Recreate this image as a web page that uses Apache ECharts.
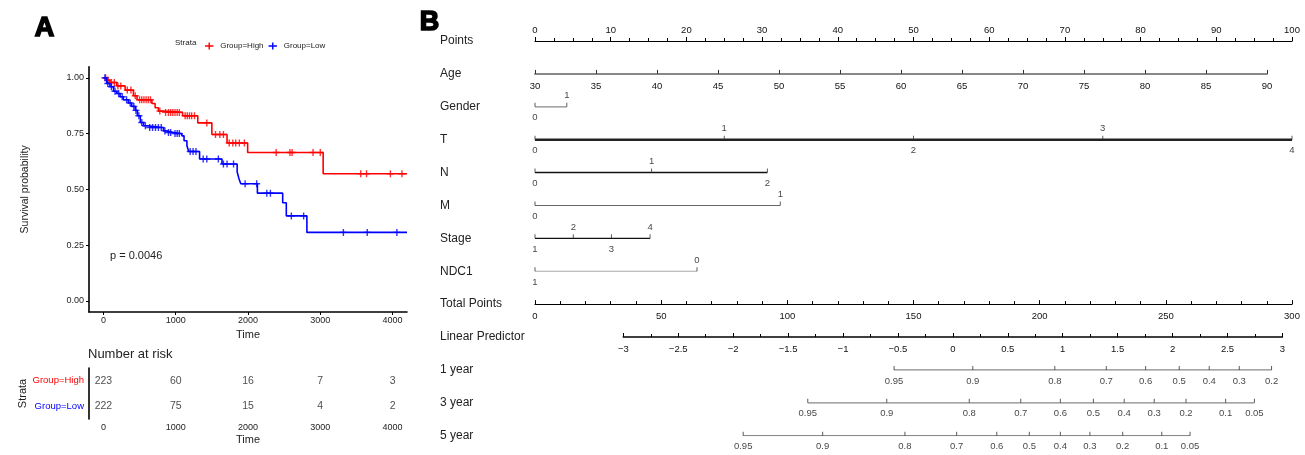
<!DOCTYPE html>
<html>
<head>
<meta charset="utf-8">
<script src="https://cdn.jsdelivr.net/npm/echarts@6/dist/echarts.min.js"></script>
<style>
html,body{margin:0;padding:0;background:#fff}
#main{width:1305px;height:455px}
</style>
</head>
<body>
<div id="main"></div>
<script>
// ---- A: Kaplan-Meier data ----
var highTime = [0, 45, 90, 185, 300, 415, 465, 670, 715, 760, 830, 1095, 1305, 1500, 1710, 1995, 3040, 4200];
var highSurv = [1.0, 0.99, 0.979, 0.964, 0.945, 0.92, 0.902, 0.885, 0.866, 0.851, 0.845, 0.83, 0.798, 0.746, 0.708, 0.665, 0.57, 0.57];
var lowTime = [0, 45, 90, 140, 185, 230, 275, 345, 390, 440, 470, 510, 555, 600, 830, 875, 970, 1085, 1115, 1155, 1180, 1330, 1640, 1850, 1875, 1900, 2130, 2480, 2530, 2815, 4200];
var lowSurv = [1.0, 0.975, 0.96, 0.94, 0.93, 0.915, 0.902, 0.887, 0.872, 0.854, 0.83, 0.80, 0.785, 0.777, 0.762, 0.755, 0.75, 0.74, 0.718, 0.696, 0.67, 0.636, 0.614, 0.578, 0.548, 0.525, 0.483, 0.44, 0.381, 0.307, 0.307];
var highCensor = [30, 60, 110, 150, 200, 240, 330, 380, 440, 500, 530, 560, 590, 620, 650, 780, 860, 900, 930, 960, 990, 1020, 1050, 1130, 1160, 1190, 1220, 1260, 1430, 1550, 1610, 1660, 1740, 1790, 1830, 1880, 1950, 2390, 2580, 2610, 2900, 3000, 3560, 3640, 3970, 4130];
var lowCensor = [20, 60, 110, 160, 210, 260, 320, 370, 420, 450, 490, 530, 580, 640, 680, 720, 760, 800, 850, 900, 930, 990, 1020, 1050, 1200, 1240, 1280, 1380, 1430, 1590, 1660, 1710, 1800, 1960, 2120, 2260, 2310, 2600, 2770, 3320, 3650, 4060];
var timeTicks = [0, 1000, 2000, 3000, 4000];
var survTicks = [0, 0.25, 0.5, 0.75, 1];
var strata = ['Group=High', 'Group=Low'];
var riskHigh = [223, 60, 16, 7, 3];
var riskLow = [222, 75, 15, 4, 2];

// ---- B: nomogram data (positions in points / total points) ----
var rowNames = ['Points', 'Age', 'Gender', 'T', 'N', 'M', 'Stage', 'NDC1', 'Total Points', 'Linear Predictor', '1 year', '3 year', '5 year'];
var agePtsAt90 = 96.7;          // Age 30 -> 0 pts, Age 90 -> 96.7 pts
var lpTotalRange = [35.0, 296.2]; // LP -3 and 3 in total points
var genderLab = ['0', '1'];           var genderPts = [0, 4.2];
var tLab = ['0', '1', '2', '3', '4']; var tPts = [0, 25, 50, 75, 100];
var nLab = ['0', '1', '2'];           var nPts = [0, 15.4, 30.7];
var mLab = ['0', '1'];                var mPts = [0, 32.4];
var stageLab = ['1', '2', '3', '4'];  var stagePts = [0, 5.06, 10.1, 15.2];
var ndc1Lab = ['1', '0'];             var ndc1Pts = [0, 21.4];
var y1Lab = ['0.95', '0.9', '0.8', '0.7', '0.6', '0.5', '0.4', '0.3', '0.2'];
var y1Pts = [142.3, 173.5, 206.0, 226.4, 242.0, 255.3, 267.2, 279.1, 291.9];
var y3Lab = ['0.95', '0.9', '0.8', '0.7', '0.6', '0.5', '0.4', '0.3', '0.2', '0.1', '0.05'];
var y3Pts = [108.1, 139.4, 172.1, 192.5, 208.2, 221.3, 233.5, 245.4, 258.0, 273.7, 285.1];
var y5Lab = ['0.95', '0.9', '0.8', '0.7', '0.6', '0.5', '0.4', '0.3', '0.2', '0.1', '0.05'];
var y5Pts = [82.5, 114.0, 146.6, 167.1, 183.0, 195.9, 208.2, 219.9, 232.9, 248.4, 259.6];

var FONT = '"Liberation Sans", Arial, sans-serif';
var RED = '#ff0000', BLUE = '#0000ff', INK = '#222';

// survival value at time t (step function)
function stepAt(times, surv, t) {
    var v = surv[0];
    for (let i = 0; i < times.length; i++) {
        if (times[i] <= t) v = surv[i];
    }
    return v;
}

function pairs(xs, ys) {
    var out = [];
    for (let i = 0; i < xs.length; i++) out.push([xs[i], ys[i]]);
    return out;
}

var plusIcon = 'path://M4,0h2v10h-2z M0,4h10v2h-10z';

// nomogram layout
var nomoLeft = 535, nomoWidth = 757, nomoTop = 41, rowH = 32.89;
function rowY(i) { return nomoTop + i * rowH; }

function nomoRow(row, xIdx, labels, pts, sides, color, width) {
    var lo = Math.min.apply(null, pts), hi = Math.max.apply(null, pts);
    var line = {
        type: 'line', xAxisIndex: xIdx, yAxisIndex: 2, data: [[lo, row], [hi, row]],
        symbol: 'none', lineStyle: { color: color, width: width }, silent: true, z: 2
    };
    var ticks = {
        type: 'scatter', xAxisIndex: xIdx, yAxisIndex: 2, symbol: 'rect',
        symbolSize: [1, 4], symbolOffset: [0, -2], itemStyle: { color: '#333' }, silent: true, z: 3,
        label: {
            show: true, fontSize: 9.5, color: '#111', fontFamily: FONT,
            formatter: function (p) { return labels[p.dataIndex]; }
        },
        data: pts.map(function (p, i) {
            var s = sides ? sides[i] : 'bottom';
            return { value: [p, row], label: { position: s, distance: s == 'top' ? 2 : 6 } };
        })
    };
    return [line, ticks];
}

var axisBlack = { onZero: false, lineStyle: { color: '#000', width: 1.6 } };
var tickFont = { fontSize: 9, color: INK, fontFamily: FONT };
var nomoFont = { fontSize: 9.5, color: '#111', fontFamily: FONT };
var plain = function (v) { return String(v); };

var series = [
    { name: 'Group=High', type: 'line', step: 'end', xAxisIndex: 0, yAxisIndex: 0, data: pairs(highTime, highSurv),
      symbol: 'none', lineStyle: { color: RED, width: 1.6 }, itemStyle: { color: RED } },
    { name: 'Group=Low', type: 'line', step: 'end', xAxisIndex: 0, yAxisIndex: 0, data: pairs(lowTime, lowSurv),
      symbol: 'none', lineStyle: { color: BLUE, width: 1.6 }, itemStyle: { color: BLUE } },
    { name: 'Group=High', type: 'scatter', xAxisIndex: 0, yAxisIndex: 0, symbol: plusIcon, symbolSize: 7,
      itemStyle: { color: RED }, data: highCensor.map(function (t) { return [t, stepAt(highTime, highSurv, t)]; }) },
    { name: 'Group=Low', type: 'scatter', xAxisIndex: 0, yAxisIndex: 0, symbol: plusIcon, symbolSize: 7,
      itemStyle: { color: BLUE }, data: lowCensor.map(function (t) { return [t, stepAt(lowTime, lowSurv, t)]; }) },
    { type: 'scatter', xAxisIndex: 1, yAxisIndex: 1, symbolSize: 1, itemStyle: { color: 'transparent' }, silent: true,
      label: { show: true, position: 'inside', fontSize: 10.5, color: INK, fontFamily: FONT,
               formatter: function (p) { return p.value[2]; } },
      data: timeTicks.map(function (t, i) { return [t, 0, riskHigh[i]]; })
            .concat(timeTicks.map(function (t, i) { return [t, 1, riskLow[i]]; })) }
];

var B = 'bottom', T = 'top';
series = series
    .concat(nomoRow(2, 2, genderLab, genderPts, [B, T], '#888', 1.3))
    .concat(nomoRow(3, 2, tLab, tPts, [B, T, B, T, B], '#222', 2.5))
    .concat(nomoRow(4, 2, nLab, nPts, [B, T, B], '#111', 1.6))
    .concat(nomoRow(5, 2, mLab, mPts, [B, T], '#666', 1.1))
    .concat(nomoRow(6, 2, stageLab, stagePts, [B, T, B, T], '#111', 1.4))
    .concat(nomoRow(7, 2, ndc1Lab, ndc1Pts, [B, T], '#aaa', 1.1))
    .concat(nomoRow(10, 3, y1Lab, y1Pts, null, '#888', 1.3))
    .concat(nomoRow(11, 3, y3Lab, y3Pts, null, '#888', 1.3))
    .concat(nomoRow(12, 3, y5Lab, y5Pts, null, '#888', 1.3));

var hiddenY = function (g) {
    return { type: 'value', gridIndex: g, show: false, min: 0, max: 1 };
};

var option = {
    animation: false,
    textStyle: { fontFamily: FONT },
    legend: {
        data: strata, left: 200, top: 37, itemWidth: 12, itemHeight: 7, itemGap: 5,
        icon: 'path://M0,4h12v2h-12z M5,0h2v10h-2z',
        textStyle: { fontSize: 8, color: INK, fontFamily: FONT }
    },
    grid: [
        { left: 89, top: 66.7, width: 318, height: 245.3 },
        { left: 89, top: 368, width: 318, height: 51 },
        { left: nomoLeft, top: nomoTop, width: nomoWidth, height: 12 * rowH },
        { left: nomoLeft, top: rowY(0), width: nomoWidth, height: 1 },
        { left: nomoLeft, top: rowY(1) - 1, width: nomoWidth * agePtsAt90 / 100, height: 1 },
        { left: nomoLeft, top: rowY(8) - 1, width: nomoWidth, height: 1 },
        { left: nomoLeft + nomoWidth * lpTotalRange[0] / 300, top: rowY(9) - 1,
          width: nomoWidth * (lpTotalRange[1] - lpTotalRange[0]) / 300, height: 1 }
    ],
    xAxis: [
        { type: 'value', gridIndex: 0, min: -200, max: 4200, name: 'Time', nameLocation: 'middle', nameGap: 15,
          nameTextStyle: { fontSize: 11, color: INK, fontFamily: FONT },
          axisLine: axisBlack, splitLine: { show: false },
          axisTick: { length: 3, customValues: timeTicks, lineStyle: { color: '#000' } },
          axisLabel: Object.assign({ margin: 4, customValues: timeTicks, formatter: plain }, tickFont) },
        { type: 'value', gridIndex: 1, min: -200, max: 4200, name: 'Time', nameLocation: 'middle', nameGap: 15,
          nameTextStyle: { fontSize: 11, color: INK, fontFamily: FONT },
          axisLine: axisBlack, splitLine: { show: false },
          axisTick: { length: 3, customValues: timeTicks, lineStyle: { color: '#000' } },
          axisLabel: Object.assign({ margin: 4, customValues: timeTicks, formatter: plain }, tickFont) },
        { type: 'value', gridIndex: 2, min: 0, max: 100, show: false },
        { type: 'value', gridIndex: 2, min: 0, max: 300, show: false },
        // Points
        { type: 'value', gridIndex: 3, position: 'top', min: 0, max: 100, interval: 10,
          axisLine: { onZero: false, lineStyle: { color: '#000', width: 1.2 } }, splitLine: { show: false },
          axisTick: { length: 4, lineStyle: { color: '#000' } },
          minorTick: { show: true, splitNumber: 4, length: 3, lineStyle: { color: '#000' } },
          axisLabel: Object.assign({ margin: 6, formatter: plain }, nomoFont) },
        // Age
        { type: 'value', gridIndex: 4, position: 'bottom', min: 30, max: 90, interval: 5,
          axisLine: { onZero: false, lineStyle: { color: '#888', width: 1.8 } }, splitLine: { show: false },
          axisTick: { inside: true, length: 4, lineStyle: { color: '#333' } },
          axisLabel: Object.assign({ margin: 7, formatter: plain }, nomoFont) },
        // Total Points
        { type: 'value', gridIndex: 5, position: 'bottom', min: 0, max: 300, interval: 50,
          axisLine: { onZero: false, lineStyle: { color: '#000', width: 1.2 } }, splitLine: { show: false },
          axisTick: { inside: true, length: 4, lineStyle: { color: '#000' } },
          minorTick: { show: true, splitNumber: 5, length: 3, lineStyle: { color: '#000' } },
          axisLabel: Object.assign({ margin: 7, formatter: plain }, nomoFont) },
        // Linear Predictor
        { type: 'value', gridIndex: 6, position: 'bottom', min: -3, max: 3, interval: 0.5,
          axisLine: { onZero: false, lineStyle: { color: '#000', width: 1.6 } }, splitLine: { show: false },
          axisTick: { inside: true, length: 4, lineStyle: { color: '#000' } },
          minorTick: { show: true, splitNumber: 2, length: 3, lineStyle: { color: '#000' } },
          axisLabel: Object.assign({ margin: 7, formatter: function (v) { return v < 0 ? '\u2212' + (-v) : String(v); } }, nomoFont) }
    ],
    yAxis: [
        { type: 'value', gridIndex: 0, min: -0.05, max: 1.05, name: 'Survival probability', nameLocation: 'middle',
          nameGap: 58, nameTextStyle: { fontSize: 10.5, color: INK, fontFamily: FONT },
          axisLine: axisBlack, splitLine: { show: false },
          axisTick: { show: true, length: 3, customValues: survTicks, lineStyle: { color: '#000' } },
          axisLabel: Object.assign({ margin: 5, customValues: survTicks,
              formatter: function (v) { return v.toFixed(2); } }, tickFont) },
        { type: 'category', gridIndex: 1, data: strata, inverse: true, name: 'Strata', nameLocation: 'middle',
          nameGap: 58, nameTextStyle: { fontSize: 11, color: INK, fontFamily: FONT },
          axisLine: axisBlack,
          axisTick: { alignWithLabel: true, length: 3, lineStyle: { color: '#000' } },
          axisLabel: { margin: 5, fontSize: 9.5, fontFamily: FONT,
              color: function (v) { return v == 'Group=High' ? RED : BLUE; } } },
        { type: 'value', gridIndex: 2, min: 0, max: 12, interval: 1, inverse: true,
          axisLine: { show: false }, axisTick: { show: false }, splitLine: { show: false },
          axisLabel: { align: 'left', margin: nomoLeft - 440, fontSize: 12, color: INK, fontFamily: FONT,
              formatter: function (v) { return rowNames[v] || ''; } } },
        hiddenY(3), hiddenY(4), hiddenY(5), hiddenY(6)
    ],
    graphic: [
        { type: 'text', left: 34, top: 14, style: { text: 'A', fontSize: 27, fontWeight: 'bold', fontFamily: 'Arial',
          fill: '#000', stroke: '#000', lineWidth: 1.6 } },
        { type: 'text', left: 419, top: 8, style: { text: 'B', fontSize: 27, fontWeight: 'bold', fontFamily: 'Arial',
          fill: '#000', stroke: '#000', lineWidth: 1.6 } },
        { type: 'text', left: 175, top: 39, style: { text: 'Strata', fontSize: 8, fontFamily: FONT, fill: INK } },
        { type: 'text', left: 88, top: 348, style: { text: 'Number at risk', fontSize: 13, fontFamily: FONT, fill: INK } },
        { type: 'text', left: 110, top: 250, style: { text: 'p = 0.0046', fontSize: 11, fontFamily: FONT, fill: INK } }
    ],
    series: series
};

var myChart = echarts.init(document.getElementById('main'));
myChart.setOption(option);
</script>
</body>
</html>
